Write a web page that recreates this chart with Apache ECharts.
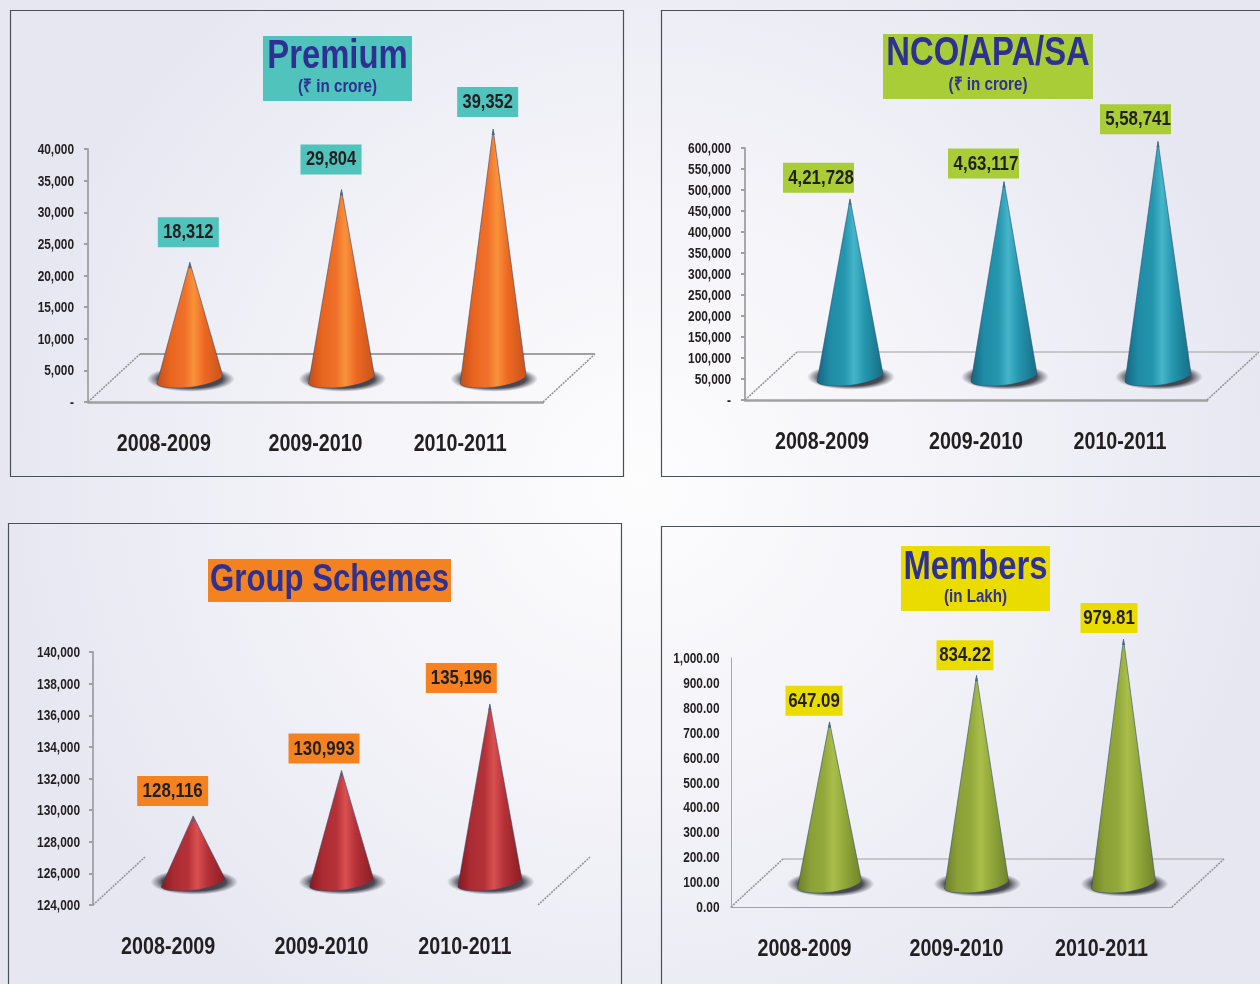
<!DOCTYPE html>
<html>
<head>
<meta charset="utf-8">
<title>Premium, NCO/APA/SA, Group Schemes, Members</title>
<style>
    html, body { margin: 0; padding: 0; background: #ecebf4; }
    #main { width: 1260px; height: 984px; }
</style>
<script src="https://cdn.jsdelivr.net/npm/echarts@6/dist/echarts.min.js"></script>
</head>
<body>
<div id="main"></div>
<script>
    // data
    var categories = ['2008-2009', '2009-2010', '2010-2011'];
    var premiumValues = [18312, 29804, 39352];
    var ncoValues = [421728, 463117, 558741];
    var groupValues = [128116, 130993, 135196];
    var memberValues = [647.09, 834.22, 979.81];

    var premiumTicks = [0, 5000, 10000, 15000, 20000, 25000, 30000, 35000, 40000];
    var ncoTicks = [0, 50000, 100000, 150000, 200000, 250000, 300000, 350000, 400000, 450000, 500000, 550000, 600000];
    var groupTicks = [124000, 126000, 128000, 130000, 132000, 134000, 136000, 138000, 140000];
    var memberTicks = [0, 100, 200, 300, 400, 500, 600, 700, 800, 900, 1000];

    var FONT = '"Liberation Sans", Arial, sans-serif';
    var INK = '#231f20';
    var NAVY = '#2e3192';
    // no narrow face is installed, so the bold face is squeezed to Arial Narrow width
    var NARROW = 0.82;

    function usFormat(v) {
        return v.toLocaleString('en-US');
    }

    function inFormat(v) {
        return v.toLocaleString('en-IN');
    }

    function fixed2(v) {
        return v.toLocaleString('en-US', {minimumFractionDigits: 2, maximumFractionDigits: 2});
    }

    function dashZero(v) {
        return v === 0 ? '-' : usFormat(v);
    }

    // layout of the four panels, values come from the arrays above
    var panels = [
        {
            title: 'Premium', sub: '(₹ in crore)', titleBox: [263, 36, 149, 65], titleY: 54, subY: 86, titleSize: 40,
            values: premiumValues, ticks: premiumTicks,
            grid: [88, 149, 543, 402], axisFmt: dashZero, labelFmt: usFormat, labelGap: 14,
            color: '#4fc3bc', border: [10.5, 10.5, 613, 466],
            cone: ['#c24e1a', '#e8641f', '#f0702a', '#f8923a', '#ec6822', '#c8541a'],
            coneDx: 26, halfBase: 33,
            boxDx: [-32, -41, -36], boxDy: [-45, -45, -42], boxW: 61, labelSize: 20, labelDx: 0,
            axisShift: [0, 0, -7], xLine: 2.5, backLine: 2, yWidth: 2, showTicks: true
        },
        {
            title: 'NCO/APA/SA', sub: '(₹ in crore)', titleBox: [883, 34, 210, 65], titleY: 51, subY: 84, titleSize: 40,
            values: ncoValues, ticks: ncoTicks,
            grid: [745, 148, 1207, 400], axisFmt: dashZero, labelFmt: inFormat, labelGap: 14,
            color: '#a9cd36', border: [661.5, 10.5, 640, 466],
            cone: ['#14657c', '#1f8ba6', '#2496ae', '#45b5ca', '#2496ae', '#166d85'],
            coneDx: 28, halfBase: 33,
            boxDx: [-67, -56, -58], boxDy: [-36, -33, -37], boxW: 71, labelSize: 20.6, labelDx: 2.5,
            axisShift: [0, 0, -10], xLine: 2.5, backLine: 1, yWidth: 2, showTicks: true
        },
        {
            title: 'Group Schemes', sub: '', titleBox: [208, 559, 243, 43], titleY: 578, subY: 0, titleSize: 38,
            values: groupValues, ticks: groupTicks,
            grid: [93, 652, 538, 905], axisFmt: usFormat, labelFmt: usFormat, labelGap: 13,
            color: '#f58220', border: [8.5, 523.5, 613, 500],
            cone: ['#84191f', '#ab2b32', '#b53138', '#d9504f', '#b53138', '#8a1d22'],
            coneDx: 26, halfBase: 32,
            boxDx: [-56, -53, -64], boxDy: [-40, -37, -41], boxW: 71, labelSize: 20.6, labelDx: 0,
            axisShift: [1, 6, 1], xLine: 0, backLine: 0, yWidth: 2, showTicks: true
        },
        {
            title: 'Members', sub: '(in Lakh)', titleBox: [901, 546, 149, 65], titleY: 565, subY: 596, titleSize: 40,
            values: memberValues, ticks: memberTicks,
            grid: [731, 658, 1172, 907], axisFmt: fixed2, labelFmt: fixed2, labelGap: 11.5,
            color: '#ebdc00', border: [661.5, 526.5, 640, 500],
            cone: ['#6b7f26', '#8a9f36', '#93a93b', '#a9be49', '#93a93b', '#6f8328'],
            coneDx: 25, halfBase: 32,
            boxDx: [-44, -40, -43], boxDy: [-36, -35, -36], boxW: 57, labelSize: 20.6, labelDx: 0,
            axisShift: [0, 5, 3], xLine: 1, backLine: 1, yWidth: 1, showTicks: false
        }
    ];

    var DEPTH_X = 52, DEPTH_Y = 48, TIP_LIFT = 24, BASE_LIFT = 14, CATEGORY_DROP = 41;

    /** squeezed bold text, used for every label in the picture */
    function narrowText(text, x, y, size, fill, align) {
        return {
            type: 'text',
            x: x,
            // the face sits a little high when centred on the middle
            y: y + size * 0.07,
            scaleX: NARROW,
            style: {
                text: text,
                x: 0,
                y: 0,
                align: align || 'center',
                verticalAlign: 'middle',
                fill: fill,
                fontFamily: FONT,
                fontWeight: 'bold',
                fontSize: size
            }
        };
    }

    /** floor of the 3D chart, built from the grid rectangle */
    function renderFloor(panel) {
        return function (params, api) {
            var c = params.coordSys;
            var x0 = c.x, x1 = c.x + c.width, y0 = c.y + c.height;
            var children = [];
            var side = {stroke: '#969696', lineWidth: 1.6, lineDash: [2, 1]};
            children.push({type: 'line', shape: {x1: x0, y1: y0, x2: x0 + DEPTH_X, y2: y0 - DEPTH_Y}, style: side});
            children.push({type: 'line', shape: {x1: x1, y1: y0, x2: x1 + DEPTH_X, y2: y0 - DEPTH_Y}, style: side});
            if (panel.backLine) {
                children.push({
                    type: 'line',
                    shape: {x1: x0 + DEPTH_X, y1: y0 - DEPTH_Y, x2: x1 + DEPTH_X, y2: y0 - DEPTH_Y},
                    style: {stroke: '#a0a0a0', lineWidth: panel.backLine}
                });
            }
            return {type: 'group', children: children};
        };
    }

    /** value axis labels, placed through the axis scale */
    function renderTick(panel) {
        return function (params, api) {
            var v = api.value(1);
            var y = api.coord([0, v])[1];
            return narrowText(panel.axisFmt(v), params.coordSys.x - panel.labelGap, y, 14.5, INK, 'right');
        };
    }

    /** category labels, placed through the axis scale */
    function renderCategory(panel) {
        return function (params, api) {
            var i = api.value(0);
            var p = api.coord([i, panel.ticks[0]]);
            return narrowText(categories[i], p[0] + panel.axisShift[i], p[1] + CATEGORY_DROP, 24, INK);
        };
    }

    /** one cone with its shadow and value label */
    function renderCone(panel) {
        return function (params, api) {
            var i = api.value(0);
            var val = api.value(1);
            var top = api.coord([i, val]);
            var foot = api.coord([i, panel.ticks[0]]);
            var x = top[0] + panel.coneDx;
            var tipY = top[1] - TIP_LIFT;
            var b = foot[1] - BASE_LIFT;
            var r = panel.halfBase;
            var d = 'M' + x + ' ' + tipY +
                ' L' + (x + r) + ' ' + (b - 12) +
                ' C' + (x + r - 3) + ' ' + (b - 7) + ' ' + (x + 12) + ' ' + (b - 1) + ' ' + (x - 8) + ' ' + b +
                ' C' + (x - 18) + ' ' + b + ' ' + (x - r + 3) + ' ' + b + ' ' + (x - r) + ' ' + (b - 4) + ' Z';
            var stops = panel.cone;
            var boxX = x + panel.boxDx[i];
            var boxY = tipY + panel.boxDy[i];
            return {
                type: 'group',
                children: [
                    {
                        type: 'circle',
                        x: x + 1,
                        y: b - 9,
                        scaleY: 0.29,
                        shape: {cx: 0, cy: 0, r: 44},
                        style: {
                            fill: new echarts.graphic.RadialGradient(0.5, 0.5, 0.5, [
                                {offset: 0, color: 'rgba(30,30,38,0.95)'},
                                {offset: 0.72, color: 'rgba(45,45,55,0.85)'},
                                {offset: 1, color: 'rgba(70,70,85,0)'}
                            ])
                        }
                    },
                    {
                        type: 'path',
                        shape: {pathData: d},
                        style: {
                            fill: new echarts.graphic.LinearGradient(0, 0, 1, 0, [
                                {offset: 0, color: stops[0]},
                                {offset: 0.2, color: stops[1]},
                                {offset: 0.42, color: stops[2]},
                                {offset: 0.56, color: stops[3]},
                                {offset: 0.72, color: stops[4]},
                                {offset: 1, color: stops[5]}
                            ]),
                            stroke: 'rgba(48,70,110,0.7)',
                            lineWidth: 0.8
                        }
                    },
                    {
                        type: 'polygon',
                        shape: {points: [[x, tipY], [x + 1.5, tipY + 6], [x - 1.5, tipY + 6]]},
                        style: {fill: '#3f6a90'}
                    },
                    {
                        type: 'rect',
                        shape: {x: boxX, y: boxY, width: panel.boxW, height: 30},
                        style: {fill: panel.color}
                    },
                    narrowText(panel.labelFmt(val), boxX + panel.boxW / 2 + panel.labelDx, boxY + 14, panel.labelSize, INK)
                ]
            };
        };
    }

    var option = {
        animation: false,
        backgroundColor: new echarts.graphic.RadialGradient(640, 480, 640, [
            {offset: 0, color: '#fdfdfe'},
            {offset: 0.45, color: '#f4f4f9'},
            {offset: 1, color: '#e7e7f2'}
        ], true),
        grid: [],
        xAxis: [],
        yAxis: [],
        series: [],
        graphic: []
    };

    panels.forEach(function (panel, n) {
        var g = panel.grid;
        var ticks = panel.ticks;
        option.grid.push({left: g[0], top: g[1], width: g[2] - g[0], height: g[3] - g[1]});
        option.xAxis.push({
            type: 'category',
            gridIndex: n,
            data: categories,
            axisTick: {show: false},
            axisLabel: {show: false},
            axisLine: {
                show: panel.xLine > 0,
                lineStyle: {color: '#a0a0a0', width: panel.xLine || 1}
            }
        });
        option.yAxis.push({
            type: 'value',
            gridIndex: n,
            min: ticks[0],
            max: ticks[ticks.length - 1],
            interval: ticks[1] - ticks[0],
            splitLine: {show: false},
            axisLabel: {show: false},
            axisLine: {show: true, lineStyle: {color: '#a8a8a8', width: panel.yWidth}},
            axisTick: {show: panel.showTicks, length: 4, lineStyle: {color: '#a0a0a0', width: 2}}
        });
        option.series.push({
            type: 'custom',
            name: panel.title + ' floor',
            xAxisIndex: n,
            yAxisIndex: n,
            silent: true,
            z: 1,
            renderItem: renderFloor(panel),
            data: [[0, ticks[0]]]
        });
        option.series.push({
            type: 'custom',
            name: panel.title + ' ticks',
            xAxisIndex: n,
            yAxisIndex: n,
            silent: true,
            z: 4,
            renderItem: renderTick(panel),
            data: ticks.map(function (v) {
                return [0, v];
            })
        });
        option.series.push({
            type: 'custom',
            name: panel.title + ' categories',
            xAxisIndex: n,
            yAxisIndex: n,
            silent: true,
            z: 4,
            renderItem: renderCategory(panel),
            data: categories.map(function (c, i) {
                return [i, ticks[0]];
            })
        });
        option.series.push({
            type: 'custom',
            name: panel.title,
            xAxisIndex: n,
            yAxisIndex: n,
            z: 3,
            renderItem: renderCone(panel),
            encode: {x: 0, y: 1},
            data: panel.values.map(function (v, i) {
                return [i, v];
            })
        });

        var box = panel.titleBox;
        var cx = box[0] + box[2] / 2;
        option.graphic.push({
            type: 'rect',
            z: 0,
            shape: {x: panel.border[0], y: panel.border[1], width: panel.border[2], height: panel.border[3]},
            style: {fill: 'transparent', stroke: '#4a5058', lineWidth: 1.2}
        });
        option.graphic.push({
            type: 'rect',
            z: 0,
            shape: {x: box[0], y: box[1], width: box[2], height: box[3]},
            style: {fill: panel.color}
        });
        var titleEl = narrowText(panel.title, cx, panel.titleY, panel.titleSize, NAVY);
        titleEl.z = 1;
        option.graphic.push(titleEl);
        if (panel.sub) {
            var subEl = narrowText(panel.sub, cx, panel.subY, 18.5, NAVY);
            subEl.z = 1;
            option.graphic.push(subEl);
        }
    });

    var myChart = echarts.init(document.getElementById('main'));
    myChart.setOption(option);
</script>
</body>
</html>
